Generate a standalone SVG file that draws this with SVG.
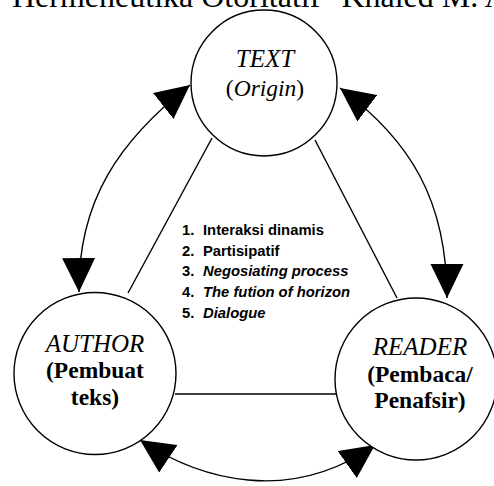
<svg xmlns="http://www.w3.org/2000/svg" width="494" height="486" viewBox="0 0 494 486">
<defs>
<style>
.node circle{fill:#fff;stroke:#000;stroke-width:1.4}
.node text, .ser{font-family:"Liberation Serif","Times New Roman",serif;fill:#000}
.lbl{font-size:23.5px;text-anchor:middle}
.it{font-style:italic;font-size:25px}
.b{font-weight:bold}
.list text{font-family:"Liberation Sans",Arial,sans-serif;font-size:14.8px;font-weight:bold;fill:#000}
.list .i{font-style:italic}
.edge{fill:none;stroke:#000;stroke-width:1.4}
</style>
<marker id="ah" markerUnits="userSpaceOnUse" markerWidth="34" markerHeight="34" viewBox="0 0 33 32" refX="33" refY="16" orient="auto-start-reverse">
<path d="M0,0 L33,16 L0,32 Z" fill="#000"/>
</marker>
</defs>
<rect width="494" height="486" fill="#fff"/>
<text class="ser" x="12" y="7" font-size="32">Hermeneutika Otoritatif" Khaled M. Abou El Fadl</text>
<g id="connectors">
<line class="edge" x1="212" y1="138" x2="128" y2="293"/>
<line class="edge" x1="315" y1="140" x2="397" y2="298"/>
<line class="edge" x1="175" y1="394" x2="336" y2="394"/>
<path class="edge" d="M190,85 C120,140 78,200 79,292" marker-start="url(#ah)" marker-end="url(#ah)"/>
<path class="edge" d="M340,88 C410,140 447,200 447,298" marker-start="url(#ah)" marker-end="url(#ah)"/>
<path class="edge" d="M140,440 C200,480 290,505 375,445" marker-start="url(#ah)" marker-end="url(#ah)"/>
</g>
<g id="text" class="node">
<circle cx="264" cy="83" r="73"/>
<text class="lbl it" x="265" y="67">TEXT</text>
<text class="lbl" x="265" y="96">(<tspan font-style="italic">Origin</tspan>)</text>
</g>
<g id="author" class="node">
<circle cx="95" cy="373.5" r="81"/>
<text class="lbl it" x="95" y="352">AUTHOR</text>
<text class="lbl b" x="95" y="378">(Pembuat</text>
<text class="lbl b" x="95" y="405">teks)</text>
</g>
<g id="reader" class="node">
<circle cx="416" cy="379" r="81"/>
<text class="lbl it" x="420" y="355">READER</text>
<text class="lbl b" x="420" y="382">(Pembaca/</text>
<text class="lbl b" x="420" y="408">Penafsir)</text>
</g>
<g id="list" class="list">
<text x="182" y="235">1.</text><text x="203" y="235">Interaksi dinamis</text>
<text x="182" y="256">2.</text><text x="203" y="256">Partisipatif</text>
<text x="182" y="276">3.</text><text class="i" x="203" y="276">Negosiating process</text>
<text x="182" y="297">4.</text><text class="i" x="203" y="297">The fution of horizon</text>
<text x="182" y="318">5.</text><text class="i" x="203" y="318">Dialogue</text>
</g>
</svg>
